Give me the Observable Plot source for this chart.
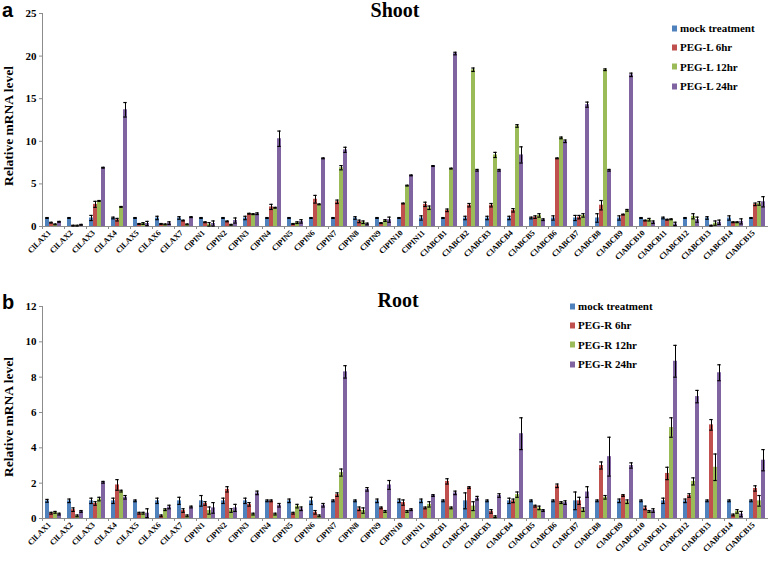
<!DOCTYPE html>
<html>
<head>
<meta charset="utf-8">
<script src="https://cdn.jsdelivr.net/npm/d3@7"></script>
<script src="https://cdn.jsdelivr.net/npm/@observablehq/plot@0.6"></script>
<style>
  html, body { margin: 0; padding: 0; background: white; }
  #wrap { position: relative; width: 778px; height: 561px; overflow: hidden; font-family: "Liberation Serif", serif; }
  .panel { position: absolute; left: 0; width: 778px; }
  .abs { position: absolute; white-space: nowrap; font-weight: bold; color: #000; }
  .letter { font-family: "Liberation Sans", Arial, sans-serif; font-size: 20px; line-height: 1; }
  .title { font-size: 20px; line-height: 1; transform: translateX(-50%); }
  .ytitle { font-size: 13.5px; line-height: 1; transform: translate(-50%, -50%) rotate(-90deg); }
  .leg { font-size: 11px; line-height: 1; display: flex; align-items: center; transform: translateY(-50%); }
  .leg span.sw { display: inline-block; width: 5px; height: 6px; margin-right: 3px; }
  svg g[aria-label="y-axis tick label"] text { font-size: 11px; }
  svg g[aria-label="fx-axis tick label"] text { font-size: 8px; }
</style>
</head>
<body>
<div id="wrap"></div>
<script>
// ---------- data ----------
const genes = ["ClLAX1","ClLAX2","ClLAX3","ClLAX4","ClLAX5","ClLAX6","ClLAX7",
  "ClPIN1","ClPIN2","ClPIN3","ClPIN4","ClPIN5","ClPIN6","ClPIN7","ClPIN8","ClPIN9","ClPIN10","ClPIN11",
  "ClABCB1","ClABCB2","ClABCB3","ClABCB4","ClABCB5","ClABCB6","ClABCB7","ClABCB8","ClABCB9","ClABCB10",
  "ClABCB11","ClABCB12","ClABCB13","ClABCB14","ClABCB15"];
const seriesKeys = ["mock", "6hr", "12hr", "24hr"];
const colors = ["#4F81BD", "#C0504D", "#9BBB59", "#8064A2"];
const shootLegend = ["mock treatment", "PEG-L 6hr", "PEG-L 12hr", "PEG-L 24hr"];
const rootLegend = ["mock treatment", "PEG-R 6hr", "PEG-R 12hr", "PEG-R 24hr"];
const shootTicks = [0, 5, 10, 15, 20, 25];
const rootTicks = [0, 2, 4, 6, 8, 10, 12];

// Shoot (panel a)
const shootMock = [1,1,1,1,1,1,1, 1,1,1,1,1,1,1,1,1,1,1, 1,1,1,1,1,1,1,1,1,1,1,1,1,1,1];
const shoot6  = [0.45,0.1,2.6,0.8,0.3,0.3,0.7, 0.5,0.6,1.5,2.3,0.3,3.2,2.9,0.6,0.4,2.7,2.6, 1.9,2.5,2.5,1.9,1.1,8.0,1.1,2.5,1.4,0.7,0.8,0.0,0.1,0.5,2.6];
const shoot12 = [0.25,0.1,3.0,2.3,0.35,0.25,0.25, 0.25,0.2,1.45,2.2,0.45,2.6,6.9,0.5,0.7,4.8,2.2, 6.8,18.4,8.4,11.8,1.3,10.4,1.3,18.4,1.9,0.8,0.85,1.2,0.4,0.5,2.7];
const shoot24 = [0.55,0.2,6.9,13.7,0.35,0.4,1.1, 0.35,0.7,1.5,10.3,0.6,8.0,9.0,0.3,0.8,6.0,7.1, 20.3,6.6,6.6,8.4,0.8,10.0,14.3,6.6,17.8,0.5,0.3,0.8,0.5,0.6,2.9];
const shootMockErr = [0.05,0.05,0.3,0.1,0.05,0.2,0.15, 0.05,0.05,0.2,0.05,0.05,0.05,0.05,0.15,0.05,0.05,0.25, 0.05,0.2,0.2,0.2,0.1,0.25,0.3,0.5,0.25,0.05,0.1,0.05,0.15,0.25,0.05];
const shoot6Err  = [0.05,0.05,0.35,0.15,0.05,0.05,0.05, 0.05,0.05,0.05,0.3,0.05,0.45,0.2,0.15,0.05,0.05,0.25, 0.15,0.2,0.2,0.2,0.15,0.05,0.2,0.55,0.05,0.05,0.05,0.0,0.05,0.05,0.15];
const shoot12Err = [0.05,0.05,0.05,0.05,0.1,0.05,0.05, 0.2,0.05,0.05,0.05,0.1,0.05,0.25,0.15,0.1,0.05,0.2, 0.05,0.2,0.3,0.15,0.2,0.1,0.2,0.1,0.1,0.15,0.05,0.3,0.25,0.05,0.2];
const shoot24Err = [0.05,0.05,0.05,0.85,0.25,0.15,0.05, 0.3,0.3,0.1,0.9,0.2,0.05,0.3,0.1,0.3,0.05,0.05, 0.15,0.1,0.1,0.95,0.1,0.15,0.3,0.1,0.2,0.15,0.2,0.3,0.25,0.3,0.6];

// Root (panel b)
const rootMock = [1,1,1,1,1,1,1, 1,1,1,1,1,1,1,1,1,1,1, 1,1,1,1,1,1,1,1,1,1,1,1,1,1,1];
const root6  = [0.3,0.5,0.85,1.9,0.3,0.15,0.45, 0.85,1.65,0.8,1.0,0.3,0.35,1.35,0.55,0.6,0.9,0.6, 2.1,1.75,0.4,1.0,0.7,1.85,1.0,3.0,1.3,0.6,2.55,1.3,5.3,0.2,1.7];
const root12 = [0.35,0.15,1.1,1.55,0.3,0.5,0.15, 0.45,0.45,0.25,0.25,0.7,0.15,2.6,0.45,0.4,0.4,0.8, 0.6,0.7,0.1,1.35,0.6,0.9,0.5,1.2,0.95,0.4,5.15,2.1,2.9,0.4,1.0];
const root24 = [0.25,0.4,2.05,1.2,0.3,0.65,0.65, 0.6,0.6,1.45,0.75,0.55,0.75,8.3,1.65,1.9,0.5,1.3, 1.45,1.15,1.3,4.8,0.45,0.9,1.5,3.5,3.0,0.45,8.9,6.9,8.25,0.25,3.3];
const rootMockErr = [0.08,0.1,0.15,0.15,0.05,0.15,0.2, 0.3,0.15,0.15,0.05,0.1,0.2,0.05,0.05,0.1,0.1,0.1, 0.05,0.45,0.05,0.15,0.05,0.05,0.5,0.05,0.1,0.05,0.15,0.1,0.05,0.05,0.05];
const root6Err  = [0.05,0.1,0.1,0.3,0.05,0.05,0.1, 0.1,0.15,0.1,0.05,0.05,0.1,0.1,0.1,0.05,0.15,0.05, 0.15,0.05,0.1,0.1,0.05,0.1,0.2,0.2,0.05,0.1,0.35,0.1,0.3,0.05,0.15];
const root12Err = [0.05,0.05,0.1,0.05,0.05,0.05,0.05, 0.2,0.1,0.05,0.05,0.1,0.05,0.2,0.15,0.05,0.05,0.15, 0.05,0.25,0.05,0.15,0.1,0.05,0.1,0.1,0.1,0.05,0.55,0.2,0.75,0.1,0.3];
const root24Err = [0.05,0.05,0.05,0.1,0.25,0.1,0.05, 0.3,0.2,0.1,0.1,0.1,0.1,0.35,0.1,0.25,0.05,0.05, 0.1,0.1,0.1,0.9,0.05,0.1,0.3,1.1,0.15,0.1,0.9,0.35,0.45,0.15,0.6];

// ---------- build ----------
function rows(vals, errs) {
  return genes.flatMap((g, i) => seriesKeys.map((s, j) => ({
    gene: g, series: s, value: vals[j][i], err: errs[j][i]
  })));
}

function panel(data, yMax, ticks, height, mt, mb) {
  return Plot.plot({
    width: 778, height, marginLeft: 39, marginRight: 8, marginTop: mt, marginBottom: mb,
    style: { fontFamily: "Liberation Serif", fontWeight: "bold", background: "white", color: "black", overflow: "visible" },
    fx: { domain: genes, padding: 0, label: null },
    x: { domain: seriesKeys, paddingInner: 0, paddingOuter: 0.6, axis: null },
    y: { domain: [0, yMax], label: null },
    color: { domain: seriesKeys, range: colors },
    marks: [
      Plot.barY(data, { fx: "gene", x: "series", y: "value", fill: "series", inset: 0 }),
      Plot.ruleY([0], { stroke: "#8c8c8c" }),
      Plot.frame({ anchor: "left", facetAnchor: "left", stroke: "#8c8c8c" }),
      Plot.ruleX(data.filter(d => d.err > 0), { fx: "gene", x: "series",
        y1: d => Math.max(0, d.value - d.err), y2: d => d.value + d.err, stroke: "black", strokeWidth: 1 }),
      Plot.tickY(data.filter(d => d.err > 0), { fx: "gene", x: "series", y: d => d.value + d.err, stroke: "black", strokeWidth: 1.2, insetLeft: 0.3, insetRight: 0.3 }),
      Plot.tickY(data.filter(d => d.err > 0 && d.value - d.err > 0), { fx: "gene", x: "series", y: d => d.value - d.err, stroke: "black", strokeWidth: 1.2, insetLeft: 0.3, insetRight: 0.3 }),
      Plot.axisY({ ticks, tickSize: 3, tickPadding: 3, label: null, stroke: "#8c8c8c", fill: "black", fontWeight: "bold" }),
      Plot.axisFx({ anchor: "bottom", tickRotate: -45, tickSize: 0, tickPadding: 5, dx: -4, label: null, fontWeight: "bold" }),
      Plot.axisFx({ anchor: "bottom", text: null, tickSize: 3, dx: -11, stroke: "#8c8c8c", label: null })
    ]
  });
}

const wrap = document.getElementById("wrap");

function addPanel(top, svg, letter, letterTop, title, titleTop, yTitleCenter, legend, legX, legY0, legDy) {
  const div = document.createElement("div");
  div.className = "panel";
  div.style.top = top + "px";
  div.appendChild(svg);
  wrap.appendChild(div);

  const L = document.createElement("div");
  L.className = "abs letter"; L.textContent = letter;
  L.style.left = "2px"; L.style.top = letterTop + "px";
  wrap.appendChild(L);

  const T = document.createElement("div");
  T.className = "abs title"; T.textContent = title;
  T.style.left = title === "Shoot" ? "395px" : "398px"; T.style.top = titleTop + "px";
  wrap.appendChild(T);

  const Y = document.createElement("div");
  Y.className = "abs ytitle"; Y.textContent = "Relative mRNA level";
  Y.style.left = "9px"; Y.style.top = yTitleCenter + "px";
  wrap.appendChild(Y);

  legend.forEach((name, i) => {
    const e = document.createElement("div");
    e.className = "abs leg";
    e.style.left = legX + "px"; e.style.top = (legY0 + i * legDy) + "px";
    const sw = document.createElement("span");
    sw.className = "sw"; sw.style.background = colors[i];
    e.appendChild(sw);
    e.appendChild(document.createTextNode(name));
    wrap.appendChild(e);
  });
}

const shootData = rows([shootMock, shoot6, shoot12, shoot24], [shootMockErr, shoot6Err, shoot12Err, shoot24Err]);
const rootData = rows([rootMock, root6, root12, root24], [rootMockErr, root6Err, root12Err, root24Err]);

addPanel(0, panel(shootData, 25, shootTicks, 270, 13, 44), "a", 0, "Shoot", 0, 126, shootLegend, 672, 28, 19.4);
addPanel(270, panel(rootData, 12, rootTicks, 291, 36, 43), "b", 292, "Root", 290, 417, rootLegend, 570, 306, 19.4);
</script>
</body>
</html>
